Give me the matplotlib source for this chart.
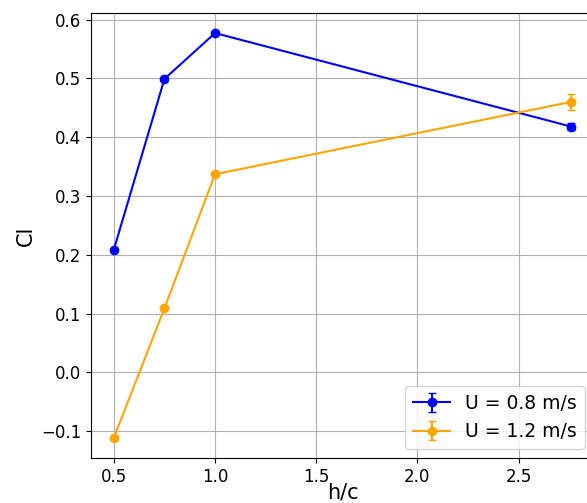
import matplotlib
matplotlib.use("Agg")
import matplotlib.pyplot as plt

h_c = [0.5, 0.75, 1.0, 2.76]

cl_08 = [0.209, 0.499, 0.577, 0.418]
err_08 = [0.0, 0.0, 0.0, 0.006]

cl_12 = [-0.111, 0.109, 0.337, 0.460]
err_12 = [0.0, 0.0, 0.0, 0.013]

fig = plt.figure(figsize=(5.87, 5.03), dpi=100)
ax = fig.add_axes([0.155, 0.0895, 0.857, 0.885])

ax.errorbar(h_c, cl_08, yerr=err_08, color='blue', marker='o', markersize=6,
            capsize=3, label='U = 0.8 m/s')
ax.errorbar(h_c, cl_12, yerr=err_12, color='orange', marker='o', markersize=6,
            capsize=3, label='U = 1.2 m/s')

ax.set_xlabel('h/c', fontsize=15, labelpad=-2)
ax.set_ylabel('Cl', fontsize=15)
ax.tick_params(labelsize=12)
ax.grid(True)
ax.legend(loc='lower right', fontsize=13.5)

fig.savefig('out.png', dpi=100)
